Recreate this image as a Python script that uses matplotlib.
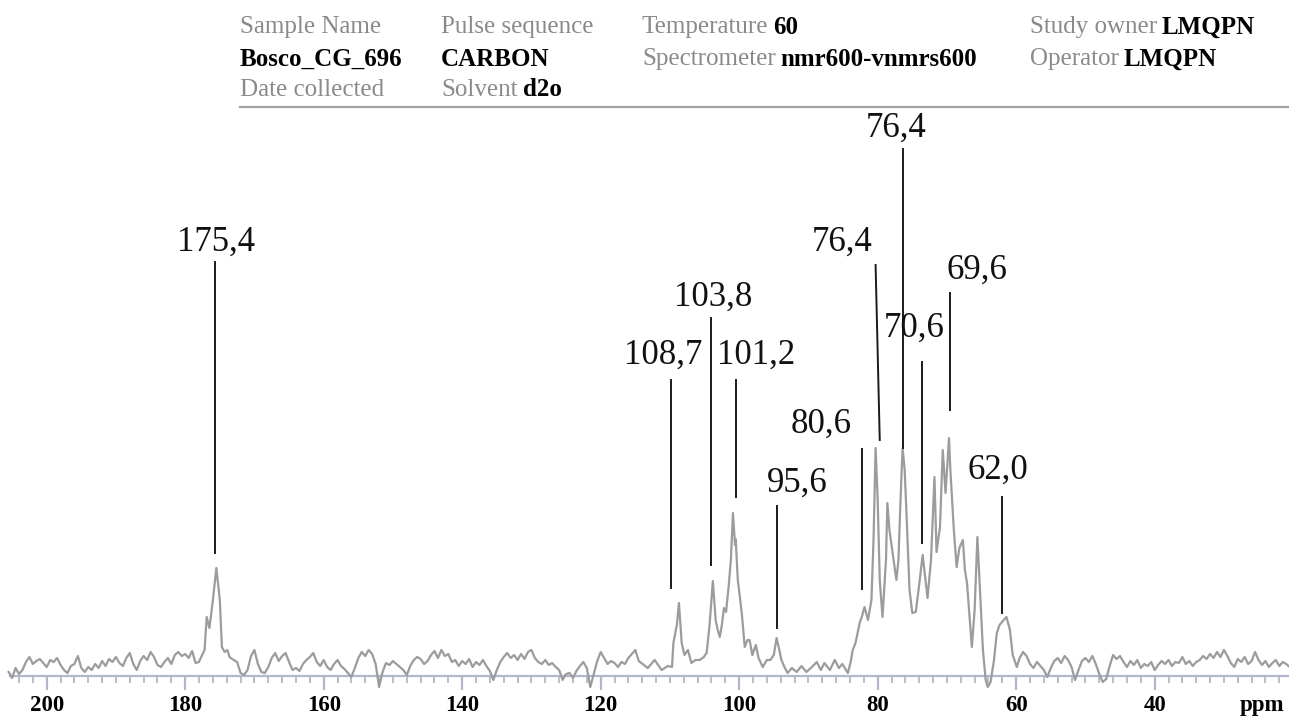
import numpy as np
import matplotlib
matplotlib.use("Agg")
import matplotlib.pyplot as plt

# ---------------- data ----------------
# noise segments: (start ppm, step 0.5 ppm downwards, heights)
noise_a_start = 205.5
noise_a = [4, -2, 8, 2, 6, 14, 19, 12, 15, 17, 13, 9, 16, 14, 18, 11, 6, 3, 10, 12,
           20, 8, 4, 9, 6, 12, 8, 15, 10, 17, 14, 19, 13, 10, 18, 23, 12, 6, 15, 20,
           16, 24, 19, 11, 9, 14, 18, 12, 21, 24, 20, 22, 18, 25, 13, 14]
noise_b_start = 172.5
noise_b = [14, 3, 1, 6, 20, 26, 12, 4, 3, 9, 18, 23, 15, 20, 23, 14, 6, 8, 5, 12,
           16, 19, 23, 14, 10, 16, 9, 6, 12, 16, 10, 7, 3, -1, 8, 18, 24, 20, 26, 22,
           12, -11, 4, 13, 11, 15, 12, 9, 6, 1, 10, 16, 19, 17, 12, 15, 21, 25, 18, 26,
           20, 22, 14, 16, 10, 15, 12, 17, 9, 14, 11, 16, 10, 5, -4, 6, 14, 19, 23, 18,
           21, 16, 22, 17, 24, 26, 18, 14, 12, 16, 11, 13, 9, 6, -4, 2, 3, -2, 5, 10,
           14, 8, -11, 2, 15, 24, 18, 12, 15, 13, 9, 14, 12, 18, 22, 26, 15]
noise_c_start = 59.5
noise_c = [18, 24, 20, 12, 8, 14, 10, 6, -1, 8, 15, 18, 13, 20, 16, 9, -4, 6, 15, 18,
           14, 20, 12, 2, -6, -3, 10, 21, 17, 20, 14, 9, 15, 11, 16, 8, 12, 10, 14, 6,
           11, 15, 12, 16, 10, 14, 13, 19, 12, 15, 10, 14, 16, 20, 17, 22, 18, 24, 19, 26,
           20, 13, 9, 17, 14, 19, 12, 15, 24, 16, 11, 15, 9, 13, 16, 10, 14, 12, 9]

# peak regions read point by point (ppm, height)
peak_ppm = [177.9, 177.2, 176.9, 176.5, 176.0, 175.5, 175.0, 174.7, 174.3, 173.9, 173.6, 173.0,
            113.2, 112.2, 111.2, 110.3, 109.7, 109.5, 109.0, 108.7, 108.3, 107.9, 107.4, 106.9,
            106.3, 105.7, 105.1, 104.7, 104.3, 103.8, 103.4, 103.1, 102.8, 102.5, 102.2, 101.9,
            101.5, 101.2, 100.9, 100.6, 100.5, 100.2, 99.9, 99.6, 99.2, 98.8, 98.5, 98.1,
            97.6, 97.2, 96.6, 96.0, 95.5, 95.0, 94.6, 94.2, 93.9, 93.4, 93.0, 92.4,
            91.7, 91.0, 90.3, 89.5, 88.8, 88.2, 87.7, 86.9, 86.2, 85.6, 85.1, 84.3,
            83.9, 83.6, 83.2, 82.6, 82.3, 81.9, 81.4, 81.2, 80.9, 80.6, 80.3, 80.0,
            79.7, 79.3, 78.8, 78.6, 78.3, 77.8, 77.3, 77.0, 76.7, 76.4, 76.1, 75.8,
            75.4, 75.0, 74.5, 74.1, 73.5, 73.1, 72.8, 72.3, 71.8, 71.5, 71.0, 70.6,
            70.2, 69.7, 69.5, 69.0, 68.6, 68.2, 67.7, 67.4, 67.1, 66.7, 66.4, 66.0,
            65.6, 65.3, 64.8, 64.4, 64.1, 63.7, 63.2, 62.8, 62.4, 61.8, 61.4, 60.9,
            60.5, 59.9]
peak_int = [16, 26, 59, 48, 76, 108, 76, 29, 24, 26, 19, 16,
            8, 16, 6, 10, 9, 33, 51, 73, 33, 21, 26, 13,
            16, 16, 19, 23, 49, 95, 56, 46, 39, 51, 68, 64,
            91, 116, 163, 131, 137, 96, 79, 61, 29, 36, 36, 21,
            31, 18, 9, 16, 16, 21, 38, 26, 16, 8, 3, 8,
            4, 10, 4, 9, 14, 6, 13, 6, 16, 8, 12, 3,
            14, 26, 33, 53, 59, 69, 56, 64, 76, 136, 228, 176,
            96, 59, 116, 173, 146, 121, 96, 116, 176, 228, 206, 156,
            86, 63, 64, 86, 121, 96, 78, 116, 199, 124, 149, 226,
            183, 238, 206, 146, 109, 128, 136, 106, 93, 56, 29, 66,
            139, 96, 26, -4, -11, -6, 16, 43, 51, 56, 59, 46,
            21, 9]

# peak annotations
peak_labels = ["175,4", "108,7", "103,8", "101,2", "95,6", "80,6",
               "76,4", "76,4", "70,6", "69,6", "62,0"]
label_ppm = [175.6, 111.0, 103.7, 97.5, 91.6, 88.2, 85.1, 77.4, 74.7, 65.7, 62.7]
label_h = [434, 321, 379, 321, 193, 252, 434, 548, 348, 406, 206]
line_top_ppm = [175.7, 109.9, 104.0, 100.5, 94.6, 82.2, 80.3, 76.4, 73.6, 69.6, 62.1]
line_bot_ppm = [175.7, 109.9, 104.0, 100.5, 94.6, 82.2, 79.7, 76.4, 73.6, 69.6, 62.1]
line_top_h = [414, 296, 358, 296, 170, 227, 411, 527, 314, 383, 179]
line_bot_h = [123, 88, 111, 179, 48, 87, 236, 228, 133, 266, 63]

major_ticks = [200, 180, 160, 140, 120, 100, 80, 60, 40]

header = [
    # (column x px, row y px, label, value)
    (240, 27, "Sample Name", ""),
    (441, 27, "Pulse sequence", ""),
    (642, 27, "Temperature", "60"),
    (1030, 27, "Study owner", "LMQPN"),
    (240, 59, "", "Bosco_CG_696"),
    (441, 59, "", "CARBON"),
    (642, 59, "Spectrometer", "nmr600-vnmrs600"),
    (1030, 59, "Operator", "LMQPN"),
    (240, 90, "Date collected", ""),
    (441, 90, "Solvent", "d2o"),
]

# ---------------- build spectrum ----------------
def seg(start, vals):
    return [start - 0.5 * i for i in range(len(vals))], list(vals)

xs, ys = [], []
for s, v in [(noise_a_start, noise_a), (noise_b_start, noise_b), (noise_c_start, noise_c)]:
    a, b = seg(s, v)
    xs += a
    ys += b
xs += peak_ppm
ys += peak_int
order = np.argsort(xs)[::-1]
spec_x = np.array(xs)[order]
spec_y = np.array(ys)[order]

# ---------------- figure ----------------
W, H = 1289, 717
fig = plt.figure(figsize=(W / 100, H / 100), dpi=100)
serif = ["Liberation Serif", "DejaVu Serif"]

base_y = 676
top_y = 110
ax = fig.add_axes([10 / W, (H - base_y) / H, 1 - 10 / W, (base_y - top_y) / H])
ax.set_xlim(205.3, 20.6)
ax.set_ylim(0, base_y - top_y)
for s in ["top", "left", "right"]:
    ax.spines[s].set_visible(False)
axis_col = "#b3b7ca"
ax.spines["bottom"].set_color(axis_col)
ax.spines["bottom"].set_linewidth(1.6)
ax.set_yticks([])
ax.set_xticks(major_ticks)
ax.set_xticklabels([str(t) for t in major_ticks])
ax.set_xticks(np.arange(204, 20, -2), minor=True)
ax.tick_params(axis="x", which="major", direction="out", length=10, width=1.6,
               color=axis_col, pad=4, labelsize=16.5)
ax.tick_params(axis="x", which="minor", direction="out", length=5, width=1.3,
               color=axis_col)
for lab in ax.get_xticklabels():
    lab.set_fontfamily(serif)
    lab.set_fontweight("bold")

ax.plot(spec_x, spec_y, color="#9b9ba0", lw=1.6, clip_on=False, zorder=3)

for i, lab in enumerate(peak_labels):
    ax.plot([line_top_ppm[i], line_bot_ppm[i]], [line_top_h[i], line_bot_h[i]],
            color="#1a1a1a", lw=1.4, clip_on=False, zorder=4)
    ax.text(label_ppm[i], label_h[i], lab, ha="center", va="center",
            fontsize=25, family=serif, color="#111111", clip_on=False, zorder=5)

fig.text(1262 / W, 1 - 705 / H, "ppm", ha="center", va="center", fontsize=16.5,
         family=serif, fontweight="bold")

# header
renderer = fig.canvas.get_renderer()
gray = "#8a8a8a"
for (cx, cy, lab, val) in header:
    x = cx
    if lab:
        t = fig.text(x / W, 1 - cy / H, lab, ha="left", va="center", fontsize=18,
                     family=serif, color=gray)
        bb = t.get_window_extent(renderer)
        x = bb.x1 + 5
    if val:
        fig.text(x / W, 1 - cy / H, val, ha="left", va="center", fontsize=18,
                 family=serif, fontweight="bold", color="black")

fig.add_artist(plt.Line2D([240 / W, 1.0], [1 - 107 / H, 1 - 107 / H],
                          transform=fig.transFigure, color="#a0a0a0", lw=1.6))

fig.savefig("out.png", dpi=100)
